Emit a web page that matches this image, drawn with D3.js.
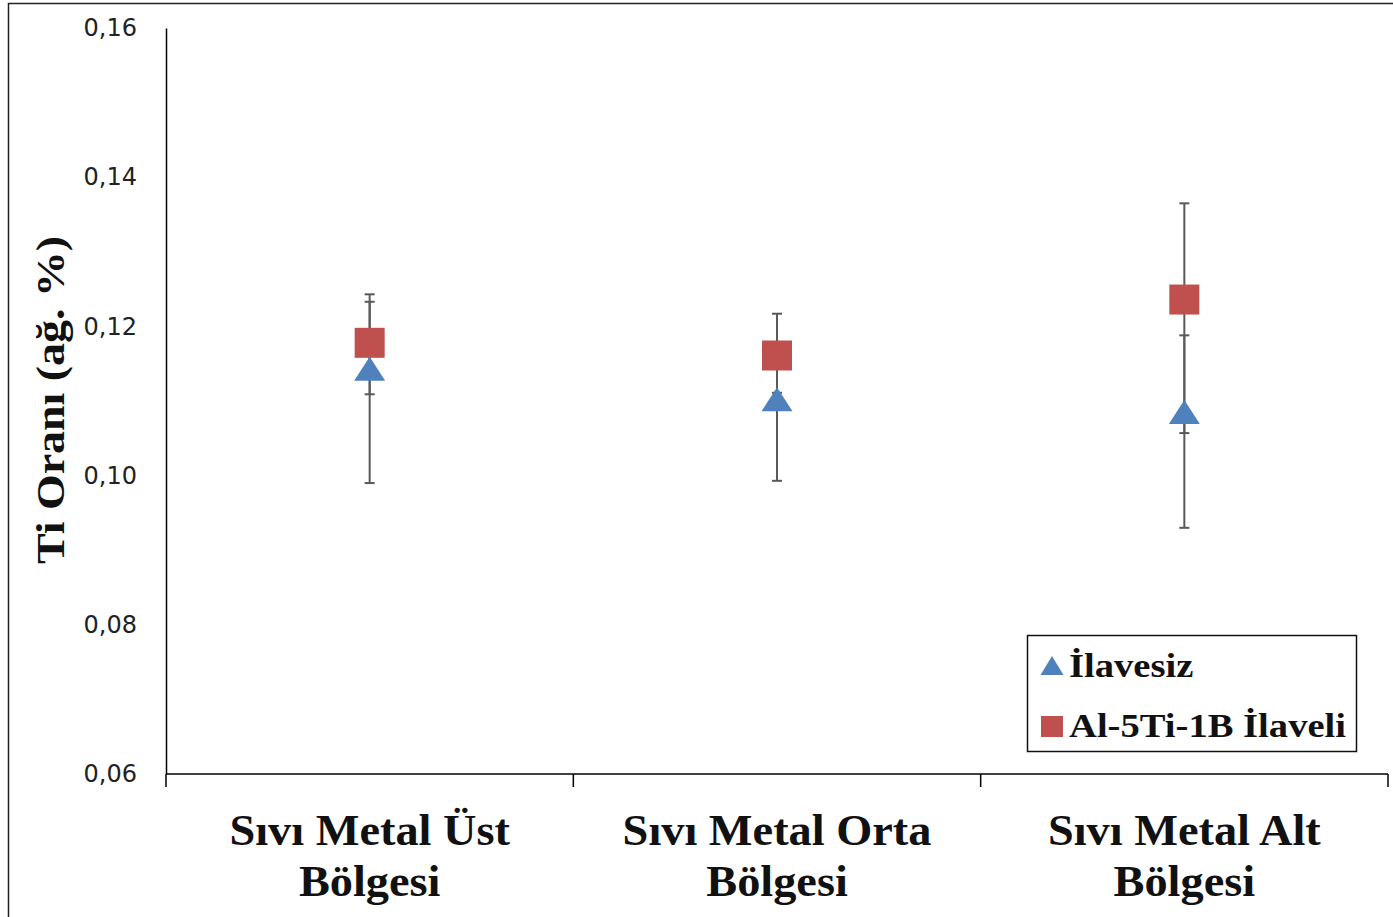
<!DOCTYPE html>
<html><head><meta charset="utf-8">
<script src="https://cdn.jsdelivr.net/npm/d3@7"></script>
<style>body{margin:0;background:#fff}svg{display:block}</style>
</head><body>
<svg id="c" width="1393" height="917"></svg>
<script>
const categories = [["Sıvı Metal Üst","Bölgesi"],["Sıvı Metal Orta","Bölgesi"],["Sıvı Metal Alt","Bölgesi"]];
const seriesNames = ["İlavesiz","Al-5Ti-1B İlaveli"];
const ilavesiz = [0.1142, 0.1101, 0.1084];
const ilavesizLow = [0.0990, 0.0993, 0.0930];
const ilavesizHigh = [0.1233, 0.1160, 0.1188];
const ilaveli = [0.1178, 0.1161, 0.1236];
const ilaveliLow = [0.1109, 0.1111, 0.1057];
const ilaveliHigh = [0.1243, 0.1217, 0.1365];
const yTicks = [0.06, 0.08, 0.10, 0.12, 0.14, 0.16];

const svg = d3.select("#c");
const L = 166, R = 1388, T = 28, B = 774;
const x = d3.scaleBand().domain(d3.range(categories.length)).range([L, R]);
const y = d3.scaleLinear().domain([0.06, 0.16]).range([B, T]);
const serif = "Liberation Serif";

// outer frame
svg.append("rect").attr("x", 8.5).attr("y", 3.5).attr("width", 1400).attr("height", 1000)
  .attr("fill", "none").attr("stroke", "#222").attr("stroke-width", 1.5);

// y axis
const yAxis = d3.axisLeft(y).tickValues(yTicks).tickSize(0).tickPadding(29)
  .tickFormat(d => d3.format(".2f")(d).replace(".", ","));
const gy = svg.append("g").attr("transform", `translate(${L},0)`).call(yAxis);
gy.select(".domain").attr("stroke", "#000").attr("stroke-width", 1.5);
gy.selectAll("text").attr("font-family", "DejaVu Sans").attr("font-size", 24).attr("fill", "#222");

// x axis
const gx = svg.append("g").attr("transform", `translate(0,${B})`);
gx.append("line").attr("x1", L).attr("x2", R).attr("y1", 0).attr("y2", 0).attr("stroke", "#000").attr("stroke-width", 1.5);
const bounds = d3.range(categories.length + 1).map(i => i < categories.length ? x(i) : x(categories.length - 1) + x.bandwidth());
gx.selectAll("line.tk").data(bounds).join("line").attr("class", "tk")
  .attr("x1", d => d).attr("x2", d => d).attr("y1", 0).attr("y2", 13)
  .attr("stroke", "#000").attr("stroke-width", 1.5);
categories.forEach((c, i) => {
  const g = gx.append("g").attr("transform", `translate(${x(i) + x.bandwidth() / 2},0) scale(1.03,1)`);
  const t = g.append("text").attr("text-anchor", "middle")
    .attr("font-family", serif).attr("font-weight", "bold").attr("font-size", 45).attr("fill", "#111");
  c.forEach((line, j) => t.append("tspan").attr("x", 0).attr("y", 71 + j * 51).text(line));
});

// y title
svg.append("text").attr("transform", `translate(64,400) rotate(-90) scale(1.12,1)`)
  .attr("text-anchor", "middle").attr("font-family", serif).attr("font-weight", "bold")
  .attr("font-size", 41).attr("fill", "#111").text("Ti Oranı (ağ. %)");

// error bars
function errBars(lo, hi) {
  const g = svg.append("g").attr("stroke", "#595959").attr("stroke-width", 2);
  lo.forEach((l, i) => {
    const cx = x(i) + x.bandwidth() / 2;
    g.append("line").attr("x1", cx).attr("x2", cx).attr("y1", y(l)).attr("y2", y(hi[i]));
    [l, hi[i]].forEach(v => g.append("line").attr("x1", cx - 5).attr("x2", cx + 5).attr("y1", y(v)).attr("y2", y(v)));
  });
}
errBars(ilavesizLow, ilavesizHigh);
errBars(ilaveliLow, ilaveliHigh);

// triangles
svg.append("g").selectAll("path").data(ilavesiz).join("path")
  .attr("d", "M0,-13L15.5,11L-15.5,11Z")
  .attr("transform", (d, i) => `translate(${x(i) + x.bandwidth() / 2},${y(d)})`)
  .attr("fill", "#4F81BD");
// squares
svg.append("g").selectAll("rect").data(ilaveli).join("rect")
  .attr("x", (d, i) => x(i) + x.bandwidth() / 2 - 15).attr("y", d => y(d) - 15)
  .attr("width", 30).attr("height", 30).attr("fill", "#C0504D");

// legend
const lg = svg.append("g");
lg.append("rect").attr("x", 1027.5).attr("y", 635.5).attr("width", 329).attr("height", 116)
  .attr("fill", "#fff").attr("stroke", "#111").attr("stroke-width", 1.5);
lg.append("path").attr("d", "M0,-10L11.5,9L-11.5,9Z").attr("transform", "translate(1052,666)").attr("fill", "#4F81BD");
lg.append("rect").attr("x", 1041).attr("y", 716).attr("width", 22).attr("height", 21).attr("fill", "#C0504D");
seriesNames.forEach((s, i) => lg.append("text")
  .attr("transform", `translate(1069,${677 + i * 60}) scale(1.17,1)`)
  .attr("font-family", serif).attr("font-weight", "bold").attr("font-size", 33).attr("fill", "#111").text(s));
</script>
</body></html>
